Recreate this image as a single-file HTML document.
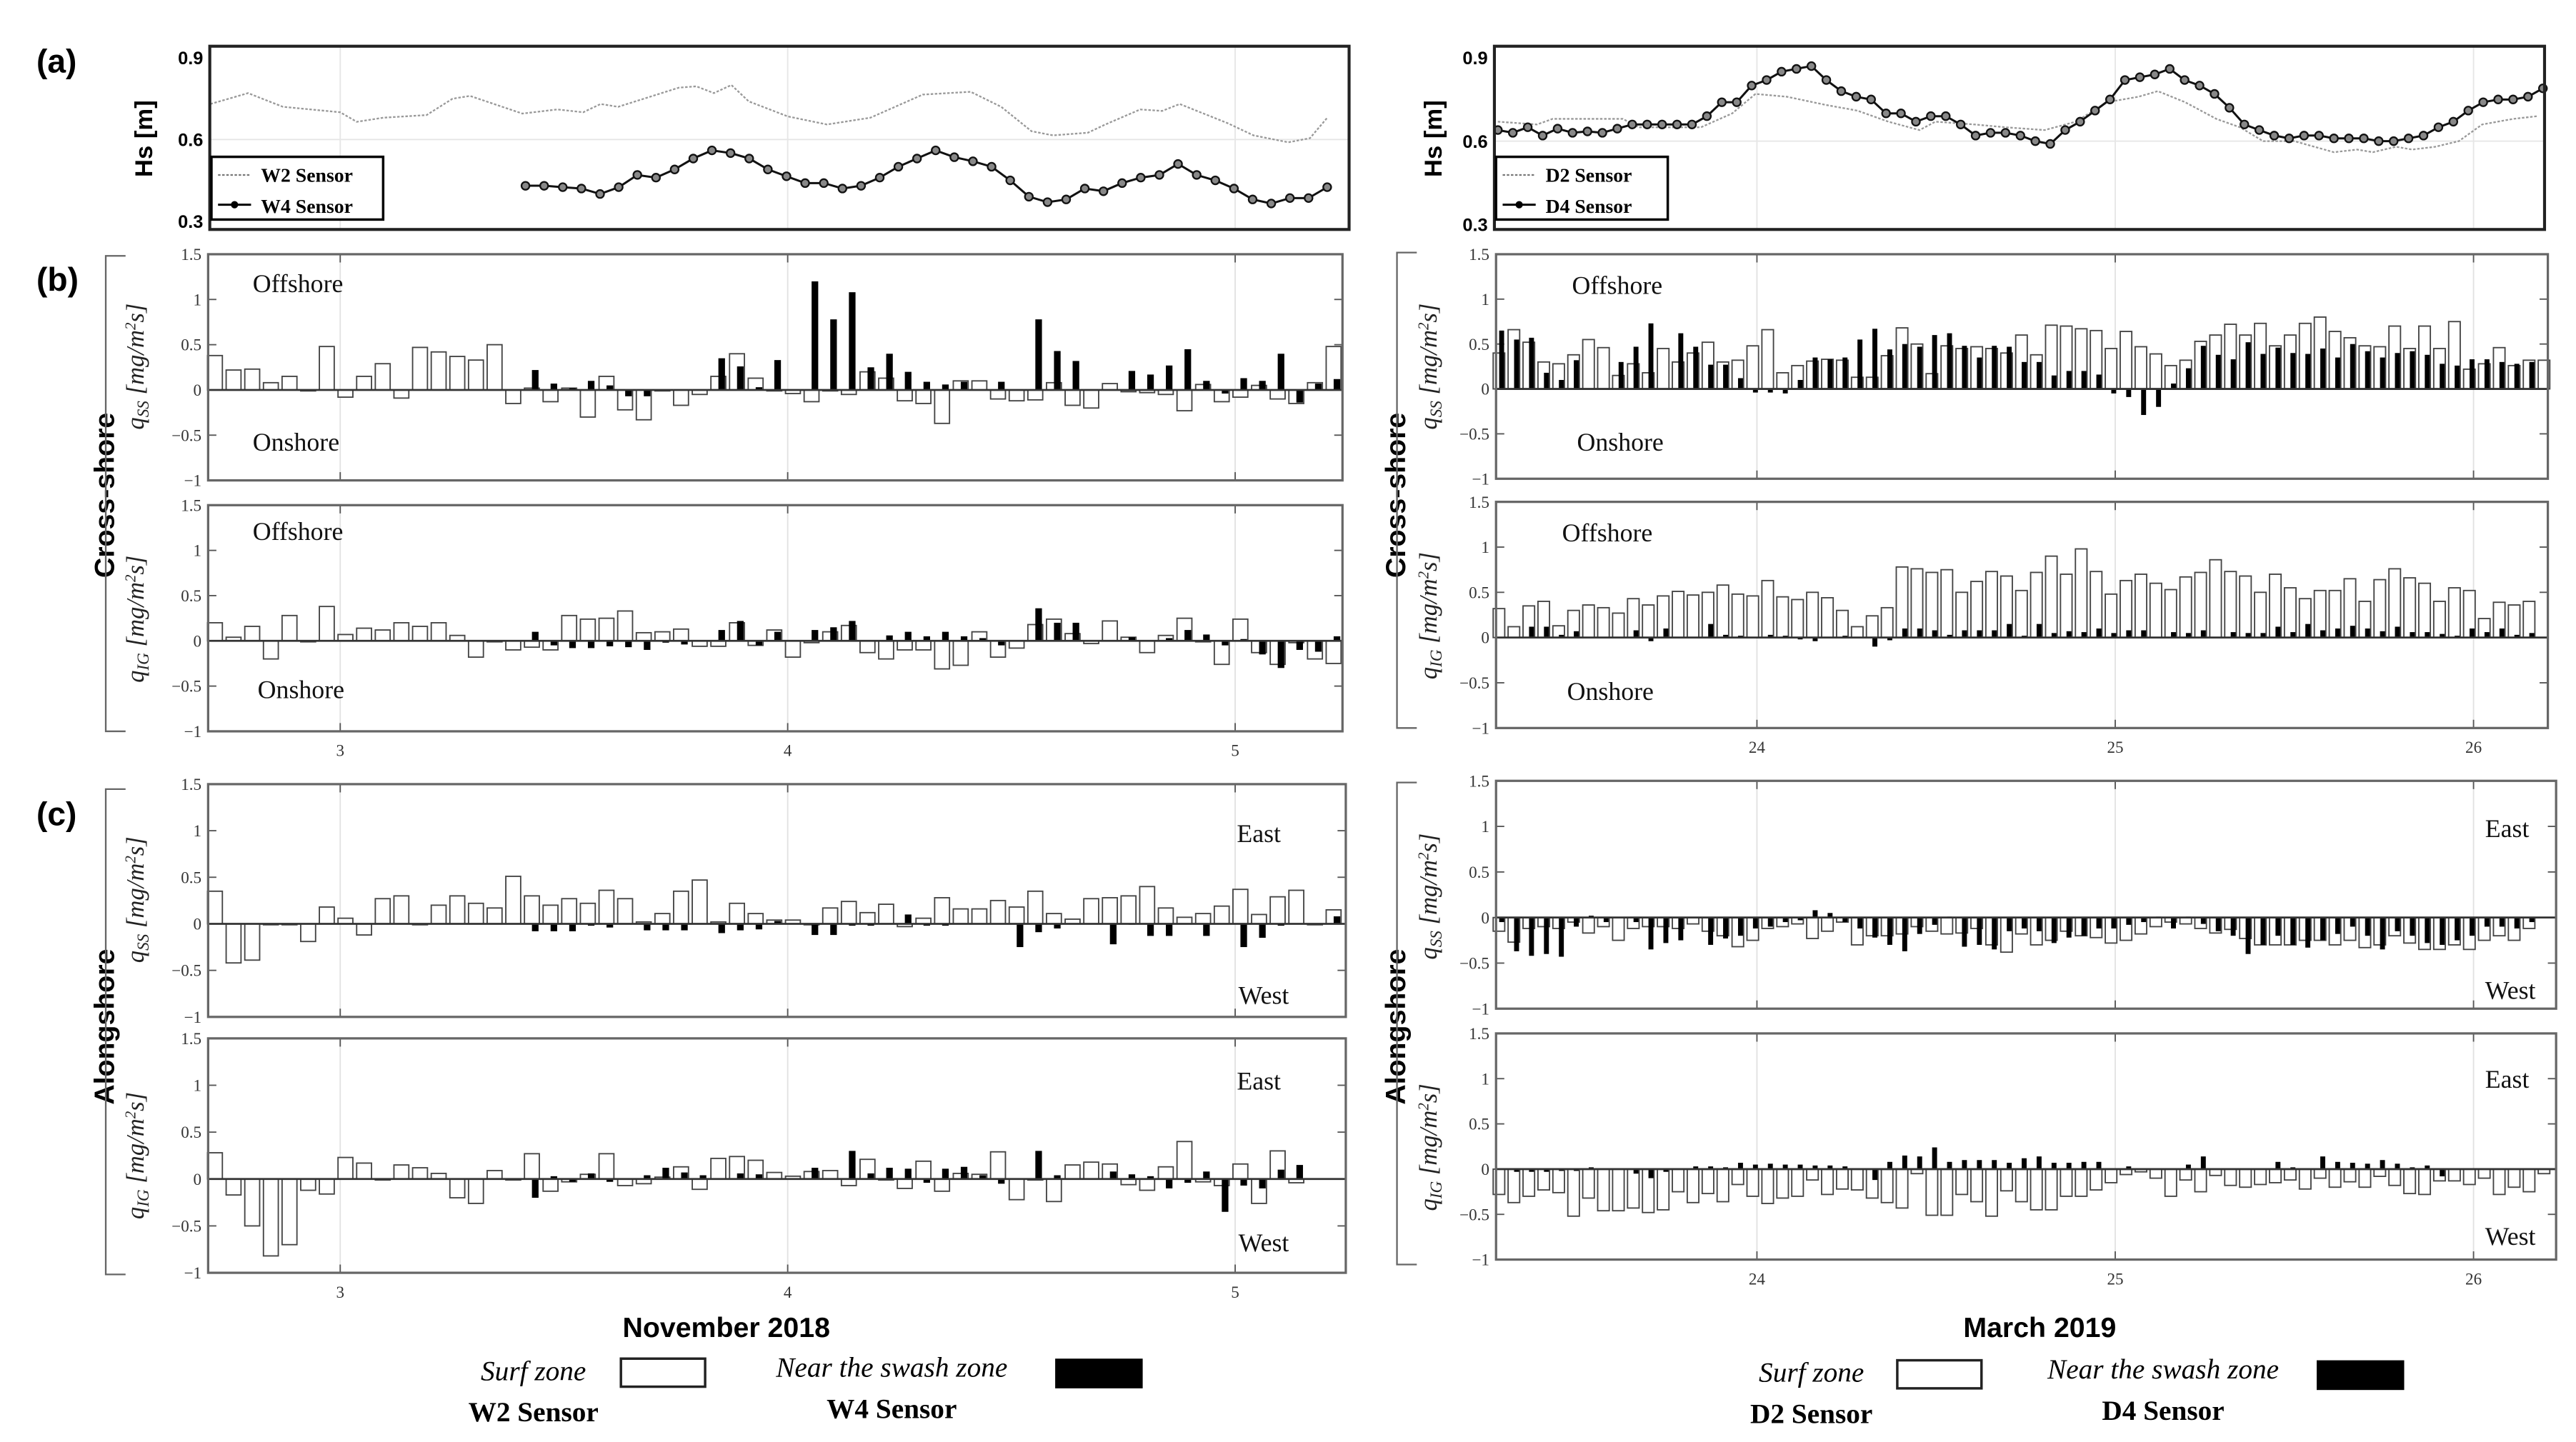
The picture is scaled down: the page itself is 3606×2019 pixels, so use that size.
<!DOCTYPE html>
<html><head><meta charset="utf-8"><style>
html,body{margin:0;padding:0;background:#fff;}
svg{display:block;}
.tk{font-family:"Liberation Serif",serif;font-size:10px;fill:#333;}
.ann{font-family:"Liberation Serif",serif;font-size:15.5px;fill:#111;}
.bsans{font-family:"Liberation Sans",sans-serif;font-weight:bold;fill:#000;}
</style></head><body>
<svg id="fig" xmlns="http://www.w3.org/2000/svg" width="3606" height="2019" viewBox="0 0 1560 873.5">
<rect width="1560" height="873.5" fill="#fff"/>
<g id="layer"></g>
</svg>
<script>
// ---------- data ----------
const barStartL = 2.72, barStartR = 23.28;
const hsW2Days = [2.710,2.794,2.872,3.0,3.037,3.096,3.193,3.251,3.290,3.407,3.485,3.543,3.582,3.621,3.757,3.796,3.835,3.874,3.913,4.0,4.088,4.185,4.302,4.409,4.477,4.545,4.593,4.671,4.710,4.788,4.837,4.876,4.983,5.041,5.119,5.167,5.206];
const hsW2 = [0.73,0.77,0.72,0.70,0.665,0.68,0.69,0.75,0.76,0.695,0.71,0.70,0.73,0.72,0.79,0.795,0.77,0.80,0.74,0.685,0.655,0.68,0.765,0.775,0.72,0.63,0.615,0.625,0.655,0.71,0.705,0.73,0.66,0.615,0.59,0.605,0.68];
const hsW4Start = 3.414;
const hsW4 = [0.43,0.43,0.425,0.42,0.40,0.425,0.47,0.46,0.49,0.53,0.56,0.55,0.53,0.49,0.465,0.44,0.44,0.42,0.43,0.46,0.50,0.53,0.56,0.535,0.52,0.50,0.45,0.39,0.37,0.38,0.42,0.41,0.44,0.46,0.47,0.51,0.47,0.45,0.42,0.38,0.365,0.385,0.385,0.425];
const hsD2Days = [23.277,23.386,23.430,23.626,23.670,23.844,23.931,23.996,24.084,24.193,24.280,24.367,24.454,24.498,24.607,24.694,24.803,24.890,24.977,25.065,25.119,25.195,25.282,25.348,25.413,25.500,25.610,25.675,25.719,25.784,25.828,25.893,25.959,26.024,26.111,26.177];
const hsD2 = [0.67,0.66,0.68,0.68,0.65,0.65,0.70,0.77,0.76,0.73,0.71,0.67,0.64,0.67,0.66,0.65,0.64,0.67,0.74,0.76,0.78,0.74,0.68,0.65,0.60,0.60,0.56,0.57,0.56,0.58,0.57,0.58,0.60,0.66,0.68,0.69];
const hsD4Start = 23.277;
const hsD4 = [0.64,0.63,0.65,0.62,0.645,0.63,0.635,0.63,0.645,0.66,0.66,0.66,0.66,0.66,0.69,0.74,0.74,0.80,0.82,0.85,0.86,0.87,0.82,0.78,0.76,0.75,0.70,0.70,0.67,0.69,0.69,0.66,0.62,0.63,0.63,0.62,0.60,0.59,0.64,0.67,0.71,0.75,0.82,0.83,0.84,0.86,0.82,0.80,0.77,0.72,0.66,0.64,0.62,0.61,0.62,0.62,0.61,0.61,0.61,0.60,0.60,0.61,0.62,0.65,0.67,0.71,0.74,0.75,0.75,0.76,0.79];

const lB1W = [0.38,0.22,0.23,0.08,0.15,-0.01,0.48,-0.08,0.15,0.29,-0.09,0.47,0.42,0.37,0.33,0.5,-0.15,0.02,-0.13,0.02,-0.3,0.15,-0.22,-0.33,0,-0.17,-0.05,0.15,0.4,0.13,0,-0.04,-0.13,0,-0.05,0.2,0.13,-0.12,-0.15,-0.37,0.1,0.1,-0.1,-0.12,-0.11,0.08,-0.17,-0.2,0.07,-0.02,-0.03,-0.05,-0.23,0.06,-0.13,-0.08,0.05,-0.1,-0.15,0.08,0.48];
const lB1B = [0,0,0,0,0,0,0,0,0,0,0,0,0,0,0,0,0,0.22,0.07,0.02,0.1,0.05,-0.07,-0.07,0,0,0,0.35,0.26,0.03,0.33,0,1.2,0.78,1.08,0.25,0.4,0.2,0.09,0.06,0.09,0,0.09,0,0.78,0.43,0.32,0,0,0.21,0.17,0.27,0.45,0.1,-0.04,0.13,0.1,0.4,-0.14,0.07,0.12];
const lB2W = [0.2,0.04,0.16,-0.2,0.28,0,0.38,0.07,0.14,0.12,0.2,0.16,0.2,0.06,-0.18,0,-0.1,-0.07,-0.1,0.28,0.24,0.25,0.33,0.09,0.1,0.13,-0.06,-0.06,0.2,-0.05,0.12,-0.18,-0.02,0.1,0.17,-0.13,-0.2,-0.1,-0.1,-0.31,-0.27,0.1,-0.18,-0.08,0.18,0.24,0.08,-0.03,0.22,0.04,-0.13,0.06,0.25,-0.01,-0.26,0.24,-0.13,-0.26,-0.02,-0.2,-0.25];
const lB2B = [0,0,0,0,0,0,0,0,0,0,0,0,0,0,0,0,0,0.1,-0.05,-0.08,-0.08,-0.06,-0.07,-0.1,-0.02,-0.04,0,0.12,0.22,-0.05,0.1,0,0.12,0.15,0.22,0,0.06,0.1,0.05,0.1,0.05,0.03,-0.05,0,0.36,0.2,0.2,0,0,0.04,0,0.03,0.12,0.07,-0.05,0.02,-0.15,-0.3,-0.1,-0.12,0.05];
const lC1W = [0.35,-0.42,-0.39,-0.01,0,-0.19,0.18,0.06,-0.12,0.27,0.3,0,0.2,0.3,0.22,0.17,0.51,0.3,0.2,0.27,0.22,0.36,0.27,0.02,0.11,0.35,0.47,0.02,0.22,0.11,0.04,0.04,0,0.17,0.24,0.12,0.21,-0.03,0.06,0.28,0.16,0.16,0.25,0.18,0.35,0.11,0.05,0.27,0.28,0.3,0.4,0.17,0.07,0.11,0.19,0.37,0.1,0.29,0.36,0,0.15];
const lC1B = [0,0,0,0,0,0,0,0,0,0,0,0,0,0,0,0,0,-0.08,-0.08,-0.08,-0.02,-0.04,0,-0.07,-0.07,-0.07,0,-0.1,-0.07,-0.06,0.03,0,-0.12,-0.12,-0.02,-0.02,0,0.1,-0.02,-0.02,0,0,0,-0.25,-0.09,-0.05,0,0,-0.22,-0.01,-0.13,-0.13,0,-0.13,0,-0.25,-0.15,-0.02,0,0,0.08];
const lC2W = [0.28,-0.17,-0.5,-0.82,-0.7,-0.12,-0.16,0.23,0.17,0,0.15,0.12,0.06,-0.2,-0.26,0.09,0,0.27,-0.13,-0.03,0.05,0.27,-0.07,-0.05,0.02,0.13,-0.11,0.22,0.24,0.2,0.07,0.03,0.08,0.09,-0.07,0.21,-0.01,-0.1,0.19,-0.13,0.06,0.05,0.29,-0.22,0,-0.24,0.15,0.18,0.16,-0.06,-0.12,0.13,0.4,-0.03,-0.07,0.16,-0.26,0.3,-0.04];
const lC2B = [0,0,0,0,0,0,0,0,0,0,0,0,0,0,0,0,0,-0.2,0.03,-0.03,0.06,-0.03,0,0.04,0.12,0.07,0.04,0,0.06,0.05,0,0,0.12,0,0.3,0.06,0.12,0.11,-0.04,0.11,0.13,0.04,-0.05,0,0.3,0.04,0,0,0.08,0.05,0.03,-0.1,-0.04,0.08,-0.35,-0.07,-0.1,0.1,0.15];

const rB1W = [0.4,0.66,0.52,0.3,0.28,0.38,0.55,0.46,0.15,0.28,0.18,0.45,0.3,0.4,0.52,0.3,0.32,0.48,0.66,0.18,0.26,0.31,0.33,0.32,0.13,0.13,0.37,0.68,0.5,0.17,0.48,0.45,0.47,0.45,0.4,0.6,0.38,0.71,0.7,0.67,0.65,0.45,0.64,0.47,0.39,0.26,0.32,0.53,0.6,0.72,0.6,0.73,0.48,0.6,0.73,0.8,0.64,0.57,0.48,0.47,0.7,0.45,0.7,0.45,0.75,0.22,0.28,0.46,0.26,0.32,0.32];
const rB1B = [0.65,0.55,0.57,0.18,0.1,0.32,0,0,0.3,0.47,0.73,0,0.62,0.47,0.27,0.27,0.12,-0.04,-0.04,-0.05,0.1,0.35,0.33,0.35,0.55,0.67,0.44,0.5,0.47,0.6,0.62,0.48,0.35,0.48,0.47,0.3,0.3,0.15,0.2,0.2,0.16,-0.05,-0.09,-0.29,-0.2,0.06,0.23,0.48,0.38,0.33,0.52,0.39,0.46,0.4,0.39,0.45,0.35,0.5,0.42,0.35,0.4,0.42,0.38,0.28,0.26,0.33,0.33,0.3,0.28,0.3];
const rB2W = [0.32,0.12,0.35,0.4,0.13,0.3,0.36,0.33,0.27,0.43,0.36,0.46,0.51,0.47,0.5,0.58,0.48,0.46,0.63,0.45,0.42,0.5,0.44,0.3,0.12,0.24,0.33,0.78,0.76,0.72,0.75,0.5,0.62,0.73,0.68,0.52,0.72,0.9,0.7,0.98,0.73,0.48,0.63,0.7,0.6,0.53,0.67,0.72,0.86,0.73,0.68,0.5,0.7,0.55,0.43,0.52,0.52,0.65,0.4,0.64,0.76,0.66,0.6,0.4,0.55,0.52,0.21,0.39,0.36,0.4];
const rB2B = [0,0,0.12,0.12,0.03,0.07,0,0,0,0.08,-0.04,0.1,0,0,0.15,0.03,0.02,0,0.03,0.02,-0.02,-0.04,0,0.02,0,-0.1,-0.03,0.1,0.1,0.08,0.03,0.08,0.08,0.08,0.15,0.02,0.15,0.05,0.07,0.06,0.1,0.05,0.08,0.08,0,0.06,0.05,0.08,0,0.06,0.05,0.05,0.12,0.06,0.15,0.08,0.1,0.13,0.1,0.07,0.12,0.06,0.06,0.04,0.02,0.1,0.06,0.1,0.03,0.05];
const rC1W = [-0.15,-0.27,-0.12,-0.1,-0.12,-0.05,-0.17,-0.1,-0.25,-0.12,-0.1,-0.1,-0.12,-0.07,-0.15,-0.2,-0.32,-0.25,-0.12,-0.1,-0.07,-0.23,-0.15,-0.05,-0.3,-0.2,-0.2,-0.18,-0.1,-0.15,-0.18,-0.17,-0.12,-0.3,-0.38,-0.18,-0.3,-0.25,-0.15,-0.2,-0.22,-0.28,-0.25,-0.18,-0.1,-0.05,-0.07,-0.12,-0.17,-0.13,-0.23,-0.3,-0.3,-0.3,-0.25,-0.25,-0.3,-0.25,-0.33,-0.3,-0.2,-0.28,-0.35,-0.35,-0.3,-0.35,-0.25,-0.2,-0.25,-0.12];
const rC1B = [-0.05,-0.37,-0.42,-0.4,-0.43,-0.1,0.02,-0.05,0,-0.05,-0.35,-0.28,-0.25,-0.01,-0.3,-0.23,-0.2,-0.12,-0.1,-0.05,-0.03,0.08,0.05,-0.05,-0.12,-0.22,-0.3,-0.37,-0.18,-0.08,0.01,-0.32,-0.3,-0.35,-0.15,-0.12,-0.15,-0.28,-0.22,-0.2,-0.12,-0.12,-0.08,-0.05,0.01,-0.12,0.01,-0.07,-0.15,-0.2,-0.4,-0.3,-0.2,-0.3,-0.33,-0.25,-0.18,-0.1,-0.2,-0.35,-0.15,-0.2,-0.28,-0.3,-0.25,-0.2,-0.1,-0.1,-0.12,-0.05];
const rC2W = [-0.28,-0.37,-0.3,-0.23,-0.26,-0.52,-0.32,-0.46,-0.46,-0.43,-0.48,-0.45,-0.25,-0.37,-0.27,-0.36,-0.17,-0.3,-0.38,-0.32,-0.3,-0.12,-0.28,-0.22,-0.23,-0.32,-0.37,-0.43,-0.05,-0.51,-0.51,-0.28,-0.36,-0.52,-0.24,-0.36,-0.45,-0.45,-0.3,-0.3,-0.23,-0.15,-0.06,-0.03,-0.1,-0.3,-0.12,-0.25,-0.07,-0.18,-0.2,-0.17,-0.15,-0.12,-0.22,-0.1,-0.2,-0.14,-0.2,-0.08,-0.18,-0.27,-0.28,-0.13,-0.13,-0.17,-0.1,-0.28,-0.2,-0.25,-0.05];
const rC2B = [0,-0.03,-0.03,-0.03,-0.02,-0.02,0.02,0,0,-0.05,-0.1,-0.03,0,0.03,0.03,0.02,0.07,0.05,0.06,0.05,0.05,0.04,0.04,0.03,0,-0.12,0.08,0.15,0.14,0.24,0.08,0.1,0.1,0.1,0.07,0.12,0.14,0.07,0.07,0.08,0.08,0,0.03,0,0.01,0.01,0.05,0.14,0,0,0,0,0.08,0.02,0,0.14,0.08,0.07,0.06,0.1,0.06,0.02,0.04,-0.08,0,0,0,0,0,0];

const qTicks = [1.5,1,0.5,0,-0.5,-1];
const qTickLabels = ["1.5","1","0.5","0","\u22120.5","\u22121"];
const hsTicks = [0.9,0.6,0.3];
const hsTickLabels = ["0.9","0.6","0.3"];
const dayTicksL = [3,4,5];
const dayTicksR = [24,25,26];

// ---------- helpers ----------
const NS = "http://www.w3.org/2000/svg";
const layer = document.getElementById("layer");
function mk(tag, attrs, parent, text){
  const e = document.createElementNS(NS, tag);
  for (const k in attrs) e.setAttribute(k, attrs[k]);
  if (text !== undefined) e.textContent = text;
  (parent || layer).appendChild(e);
  return e;
}
const xL = d => 206 + (d - 3) * 271;
const xR = d => 1064 + (d - 24) * 217;

function barPanel(name, xf, dayTicks, x0, x1, top, bot, white, black, start, wW, bW, ticksAtBottom){
  const g = mk("g", {});
  
  
  const y = v => top + (1.5 - v) / 2.5 * (bot - top);
  dayTicks.forEach(d => {
    const gl = mk("line", {x1: xf(d), x2: xf(d), y1: top, y2: bot, stroke: "#e2e2e2", "stroke-width": 0.8}, g);
    
    
    mk("line", {x1: xf(d), x2: xf(d), y1: top, y2: top+5, stroke: "#555", "stroke-width": 0.8}, g);
    mk("line", {x1: xf(d), x2: xf(d), y1: bot, y2: bot-5, stroke: "#555", "stroke-width": 0.8}, g);
    if (ticksAtBottom) {
      const t = mk("text", {x: xf(d), y: bot + 15, "text-anchor": "middle", class: "tk", "font-size": "11"}, g, String(d));
      
      
    }
  });
  qTicks.forEach((v, i) => {
    mk("line", {x1: x0, x2: x0+5, y1: y(v), y2: y(v), stroke: "#555", "stroke-width": 0.8}, g);
    mk("line", {x1: x1, x2: x1-5, y1: y(v), y2: y(v), stroke: "#555", "stroke-width": 0.8}, g);
    const t = mk("text", {x: x0 - 4, y: y(v) + 3.5, "text-anchor": "end", class: "tk"}, g, qTickLabels[i]);
    
    
  });
  const y0 = y(0);
  const spd = 1/24;
  const pxh = xf(start + spd) - xf(start);
  white.forEach((v, i) => {
    const cx = xf(start + i * spd);
    const yy = y(v);
    const r = mk("rect", {x: cx - wW/2, y: Math.min(yy, y0), width: wW, height: Math.max(Math.abs(yy - y0), 0.6), fill: "#fff", stroke: "#444", "stroke-width": 0.8}, g);
    
    
  });
  black.forEach((v, i) => {
    const cx = xf(start + i * spd) + pxh * 0.18;
    const yy = y(v);
    if (Math.abs(v) < 0.005) return;
    const r = mk("rect", {x: cx - bW/2, y: Math.min(yy, y0), width: bW, height: Math.abs(yy - y0), fill: "#000"}, g);
    
    
  });
  mk("line", {x1: x0, x2: x1, y1: y0, y2: y0, stroke: "#333", "stroke-width": 1.2}, g);
  const fr = mk("rect", {x: x0, y: top, width: x1 - x0, height: bot - top, fill: "none", stroke: "#666", "stroke-width": 1.4}, g);
  
  
  return y;
}

function hsPanel(name, xf, dayTicks, x0, x1, top, bot, y09, y03, thinDays, thin, thickStart, thick, leg1, leg2, legX){
  const g = mk("g", {});
  
  
  const y = v => y03 + (v - 0.3) / 0.6 * (y09 - y03);
  dayTicks.forEach(d => {
    const gl = mk("line", {x1: xf(d), x2: xf(d), y1: top, y2: bot, stroke: "#e6e6e6", "stroke-width": 0.8}, g);
    
    
  });
  mk("line", {x1: x0, x2: x1, y1: y(0.6), y2: y(0.6), stroke: "#e6e6e6", "stroke-width": 0.8}, g);
  hsTicks.forEach((v, i) => {
    const t = mk("text", {x: x0 - 4, y: y(v) + 4, "text-anchor": "end", class: "bsans", "font-size": "11"}, g, hsTickLabels[i]);
    
    
  });
  const p1 = thinDays.map((d, i) => xf(d).toFixed(1) + "," + y(thin[i]).toFixed(1)).join(" ");
  const l1 = mk("polyline", {points: p1, fill: "none", stroke: "#999", "stroke-width": 1, "stroke-dasharray": "1.5,1"}, g);
  
  
  const pts = thick.map((v, i) => [xf(thickStart + i/24), y(v)]);
  const l2 = mk("polyline", {points: pts.map(p => p[0].toFixed(1)+","+p[1].toFixed(1)).join(" "), fill: "none", stroke: "#111", "stroke-width": 1.3}, g);
  
  
  pts.forEach(p => {
    const c = mk("circle", {cx: p[0], cy: p[1], r: 2.4, fill: "#888", stroke: "#111", "stroke-width": 1}, g);
    
    
  });
  const fr = mk("rect", {x: x0, y: top, width: x1 - x0, height: bot - top, fill: "none", stroke: "#222", "stroke-width": 1.8}, g);
  
  
  const lg = mk("g", {}, g);
  
  
  mk("rect", {x: legX, y: 95, width: 104, height: 38, fill: "#fff", stroke: "#000", "stroke-width": 1.5}, lg);
  mk("line", {x1: legX+4, x2: legX+24, y1: 106, y2: 106, stroke: "#777", "stroke-width": 1, "stroke-dasharray": "1.5,1"}, lg);
  const t1 = mk("text", {x: legX+30, y: 110, "font-family": "Liberation Serif, serif", "font-weight": "bold", "font-size": "12"}, lg, leg1);
  
  
  mk("line", {x1: legX+4, x2: legX+24, y1: 124, y2: 124, stroke: "#000", "stroke-width": 1.3}, lg);
  mk("circle", {cx: legX+14, cy: 124, r: 2.2, fill: "#000"}, lg);
  const t2 = mk("text", {x: legX+30, y: 129, "font-family": "Liberation Serif, serif", "font-weight": "bold", "font-size": "12"}, lg, leg2);
  
  
}

// ---------- draw ----------
hsPanel("hs-panel-november", xL, dayTicksL, 127, 817, 28, 139, 35, 134, hsW2Days, hsW2, hsW4Start, hsW4, "W2 Sensor", "W4 Sensor", 128);
hsPanel("hs-panel-march", xR, dayTicksR, 905, 1541, 28, 139, 35, 136, hsD2Days, hsD2, hsD4Start, hsD4, "D2 Sensor", "D4 Sensor", 906);

barPanel("cross-qss-november", xL, dayTicksL, 126, 813, 154, 291, lB1W, lB1B, barStartL, 9, 4, false);
barPanel("cross-qig-november", xL, dayTicksL, 126, 813, 306, 443, lB2W, lB2B, barStartL, 9, 4, true);
barPanel("along-qss-november", xL, dayTicksL, 126, 815, 475, 616, lC1W, lC1B, barStartL, 9, 4, false);
barPanel("along-qig-november", xL, dayTicksL, 126, 815, 629, 771, lC2W, lC2B, barStartL, 9, 4, true);
barPanel("cross-qss-march", xR, dayTicksR, 906, 1543, 154, 290, rB1W, rB1B, barStartR, 7, 3, false);
barPanel("cross-qig-march", xR, dayTicksR, 906, 1543, 304, 441, rB2W, rB2B, barStartR, 7, 3, true);
barPanel("along-qss-march", xR, dayTicksR, 906, 1548, 473, 611, rC1W, rC1B, barStartR, 7, 3, false);
barPanel("along-qig-march", xR, dayTicksR, 906, 1548, 626, 763, rC2W, rC2B, barStartR, 7, 3, true);

function ann(x, y, s, name){
  const t = mk("text", {x: x, y: y, class: "ann"}, layer, s);
  
  
}
ann(153,177,"Offshore","offshore-label"); ann(153,273,"Onshore","onshore-label");
ann(153,327,"Offshore","offshore-label"); ann(156,423,"Onshore","onshore-label");
ann(952,178,"Offshore","offshore-label"); ann(955,273,"Onshore","onshore-label");
ann(946,328,"Offshore","offshore-label"); ann(949,424,"Onshore","onshore-label");
ann(749,510,"East","east-label"); ann(750,608,"West","west-label");
ann(749,660,"East","east-label"); ann(750,758,"West","west-label");
ann(1505,507,"East","east-label"); ann(1505,605,"West","west-label");
ann(1505,659,"East","east-label"); ann(1505,754,"West","west-label");

function lab(x, y, s, size, name){
  const t = mk("text", {x: x, y: y, class: "bsans", "font-size": size}, layer, s);
  
  
}
lab(22,44,"(a)",20,"panel-label-a"); lab(22,176,"(b)",20,"panel-label-b"); lab(22,500,"(c)",20,"panel-label-c");

function rot(x, y, s, cls, attrs, name){
  const a = Object.assign({x: 0, y: 0, transform: "translate("+x+","+y+") rotate(-90)", "text-anchor": "middle", class: cls}, attrs);
  const t = mk("text", a, layer, s);
  
  
  return t;
}
[[92,84],[873,84]].forEach(p => rot(p[0], p[1], "Hs [m]", "bsans", {"font-size": 15}, "hs-axis-title"));
[[69,300],[851,300]].forEach(p => rot(p[0], p[1], "Cross-shore", "bsans", {"font-size": 17}, "cross-shore-title"));
[[69,622],[851,622]].forEach(p => rot(p[0], p[1], "Alongshore", "bsans", {"font-size": 17}, "alongshore-title"));
function qlab(x, y, sub, name){
  const t = mk("text", {x: 0, y: 0, transform: "translate("+x+","+y+") rotate(-90)", "text-anchor": "middle", "font-family": "Liberation Serif, serif", "font-style": "italic", "font-size": 15, fill: "#222"}, layer);
  
  
  mk("tspan", {}, t, "q");
  mk("tspan", {"font-size": 10, dy: 3}, t, sub);
  mk("tspan", {dy: -3}, t, " [mg/m");
  mk("tspan", {"font-size": 9, dy: -5}, t, "2");
  mk("tspan", {dy: 5}, t, "s]");
}
[[87,222,"SS"],[87,375,"IG"],[87,545,"SS"],[87,700,"IG"],[870,222,"SS"],[870,373,"IG"],[870,543,"SS"],[870,695,"IG"]].forEach(p => qlab(p[0], p[1], p[2], "y-axis-title-q" + p[2].toLowerCase()));
[[64,155,443],[64,478,772],[846,153,441],[846,474,766]].forEach(b => {
  const p = mk("path", {d: "M"+(b[0]+12)+","+b[1]+" H"+b[0]+" V"+b[2]+" H"+(b[0]+12), fill: "none", stroke: "#666", "stroke-width": 1}, layer);
  
  
});
lab(377,810,"November 2018",17,"x-axis-title-november");
lab(1189,810,"March 2019",17,"x-axis-title-march");

function legend(cx1, cx2, b1x, b2x, s1, s2, y){
  const g = mk("g", {});
  
  
  const a = mk("text", {x: cx1, y: y, "text-anchor": "middle", "font-family": "Liberation Serif, serif", "font-style": "italic", "font-size": 17}, g, "Surf zone");
  
  
  mk("rect", {x: b1x, y: y-13, width: 51, height: 17, fill: "#fff", stroke: "#222", "stroke-width": 1.5}, g);
  const b = mk("text", {x: cx2, y: y-2, "text-anchor": "middle", "font-family": "Liberation Serif, serif", "font-style": "italic", "font-size": 17}, g, "Near the swash zone");
  
  
  mk("rect", {x: b2x, y: y-13, width: 53, height: 18, fill: "#000"}, g);
  const c = mk("text", {x: cx1, y: y+25, "text-anchor": "middle", "font-family": "Liberation Serif, serif", "font-weight": "bold", "font-size": 17}, g, s1);
  
  
  const d = mk("text", {x: cx2, y: y+23, "text-anchor": "middle", "font-family": "Liberation Serif, serif", "font-weight": "bold", "font-size": 17}, g, s2);
  
  
}
legend(323, 540, 376, 639, "W2 Sensor", "W4 Sensor", 836);
legend(1097, 1310, 1149, 1403, "D2 Sensor", "D4 Sensor", 837);
</script>
</body></html>
